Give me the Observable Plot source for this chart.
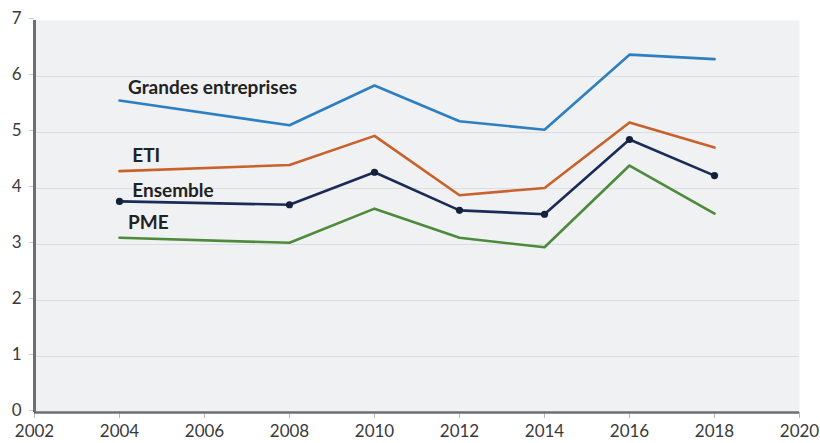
<!DOCTYPE html>
<html>
<head>
<meta charset="utf-8">
<script src="https://cdn.jsdelivr.net/npm/d3@7"></script>
<script src="https://cdn.jsdelivr.net/npm/@observablehq/plot@0.6"></script>
<style>
  html, body { margin: 0; padding: 0; background: #fff; }
  #chart { width: 820px; height: 443px; }
</style>
</head>
<body>
<div id="chart"></div>
<script>
const years = [2004, 2008, 2010, 2012, 2014, 2016, 2018];
const grandes = [5.57, 5.13, 5.84, 5.20, 5.05, 6.39, 6.31];
const eti = [4.31, 4.42, 4.94, 3.88, 4.01, 5.18, 4.73];
const ensemble = [3.77, 3.71, 4.29, 3.61, 3.54, 4.875, 4.23];
const pme = [3.12, 3.03, 3.64, 3.12, 2.95, 4.41, 3.55];
const seriesNames = ["Grandes entreprises", "ETI", "Ensemble", "PME"];
const seriesColors = ["#2e7fc1", "#c9612a", "#1c2b55", "#4e8a3b"];
const xTicks = [2002, 2004, 2006, 2008, 2010, 2012, 2014, 2016, 2018, 2020];
const yTicks = [0, 1, 2, 3, 4, 5, 6, 7];
// label anchor positions (data coords)
const labelX = [2004.2, 2004.3, 2004.3, 2004.2];
const labelY = [5.79, 4.59, 3.95, 3.39];

const allSeries = [grandes, eti, ensemble, pme];
const data = [];
allSeries.forEach((vals, i) => vals.forEach((v, j) => data.push({year: years[j], value: v, series: seriesNames[i]})));
const labels = seriesNames.map((s, i) => ({series: s, x: labelX[i], y: labelY[i]}));

const font = "Lato, 'Open Sans', sans-serif";
const chart = Plot.plot({
  width: 820,
  height: 443,
  marginLeft: 34,
  marginRight: 21,
  marginTop: 20,
  marginBottom: 31,
  style: {fontFamily: font, fontSize: "17px", color: "#3a3a3a", background: "#fff"},
  x: {domain: [2002, 2020], label: null},
  y: {domain: [0, 7], label: null},
  color: {domain: seriesNames, range: seriesColors},
  marks: [
    Plot.frame({fill: "#f0f1f3", stroke: null}),
    Plot.ruleY(yTicks.filter(d => d > 0 && d < 7), {stroke: "#dcdde1", strokeWidth: 1.2}),
    Plot.axisX({ticks: xTicks, tickFormat: d => String(d), tickSize: 6, tickPadding: 6, stroke: "#b5b6ba", fill: "#3a3a3a", fontSize: 17}),
    Plot.axisY({ticks: yTicks, tickFormat: d => String(d), tickSize: 5, tickPadding: 8, stroke: "#c8c9cc", fill: "#3a3a3a", fontSize: 17, dy: -2}),
    Plot.line(data, {x: "year", y: "value", z: "series", stroke: "series", strokeWidth: 2.6}),
    Plot.dot(data.filter(d => d.series === "Ensemble"), {x: "year", y: "value", r: 3.6, fill: "#14213d"}),
    Plot.ruleX([2002], {stroke: "#6e6e73", strokeWidth: 3}),
    Plot.ruleY([0], {stroke: "#6e6e73", strokeWidth: 2.6}),
    Plot.text(labels, {x: "x", y: "y", text: "series", textAnchor: "start", fontWeight: "bold", fontSize: 19, fill: "#222"})
  ]
});
document.getElementById("chart").appendChild(chart);
</script>
</body>
</html>
